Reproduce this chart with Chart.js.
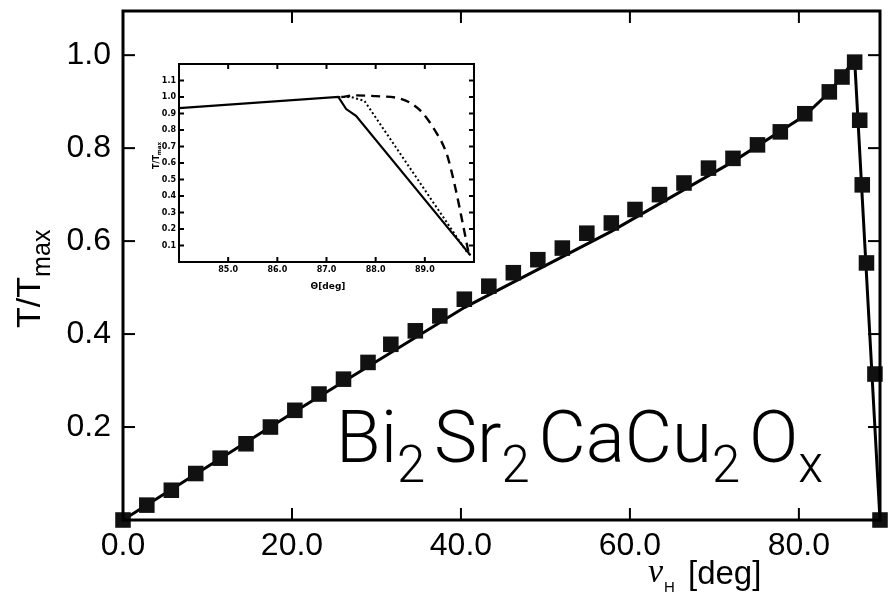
<!DOCTYPE html>
<html>
<head>
<meta charset="utf-8">
<script src="https://cdn.jsdelivr.net/npm/chart.js@4.4.1/dist/chart.umd.min.js"></script>
<style>
  html, body { margin: 0; padding: 0; background: #fff; }
  #wrap { position: relative; width: 891px; height: 592px; }
  #main { position: absolute; left: 0; top: 0; }
  #inset { position: absolute; left: 140px; top: 55px; }
</style>
</head>
<body>
<div id="wrap">
  <canvas id="main" width="891" height="592"></canvas>
  <canvas id="inset" width="345" height="250"></canvas>
</div>
<script>
// main panel: measured points (theta_H in deg, T/Tmax)
const thetaH = [0, 2.82, 5.72, 8.61, 11.5, 14.56, 17.45, 20.34, 23.2, 26.1, 29.0, 31.7, 34.6, 37.5,
  40.4, 43.3, 46.2, 49.1, 52.0, 54.9, 57.8, 60.6, 63.5, 66.4, 69.3, 72.2, 75.1, 77.8, 80.7, 83.6,
  85.1, 86.6, 87.2, 87.5, 88.0, 89.0, 89.6];
const tRatio = [0, 0.032, 0.064, 0.100, 0.133, 0.164, 0.200, 0.236, 0.271, 0.303, 0.339, 0.378, 0.407, 0.439,
  0.475, 0.503, 0.532, 0.560, 0.585, 0.617, 0.639, 0.668, 0.700, 0.725, 0.757, 0.778, 0.807, 0.835, 0.874, 0.921,
  0.953, 0.985, 0.860, 0.721, 0.553, 0.314, 0];
// main panel: model line
const fitX = [0, 20.3, 40.4, 57.8, 72.2, 80.7, 83.6, 86.6, 89.6];
const fitY = [0, 0.233, 0.457, 0.621, 0.771, 0.870, 0.920, 0.99, 0];
const mainXTicks = [0, 20, 40, 60, 80];
const mainYTicks = [0.2, 0.4, 0.6, 0.8, 1.0];

// inset curves (theta in deg, T/Tmax)
const solidX = [84.0, 87.24, 87.4, 87.6, 89.93];
const solidY = [0.933, 1.0, 0.927, 0.886, 0.04];
const dottedX = [87.24, 87.5, 87.77, 89.85, 89.93];
const dottedY = [1.0, 1.0, 0.977, 0.063, 0.04];
const dashedX = [87.3, 87.6, 88.0, 88.5, 88.9, 89.2, 89.45, 89.62, 89.76, 89.9];
const dashedY = [1.0, 1.01, 1.005, 0.99, 0.92, 0.8, 0.65, 0.45, 0.25, 0.04];
const insetXTicks = [85, 86, 87, 88, 89];
const insetYTicks = [0.1, 0.2, 0.3, 0.4, 0.5, 0.6, 0.7, 0.8, 0.9, 1.0, 1.1];

const pts = (xs, ys) => xs.map((x, i) => ({ x: x, y: ys[i] }));
const near = (v, list) => list.some((t) => Math.abs(t - v) < 1e-6);
const noPad = (s) => { s.paddingTop = 0; s.paddingBottom = 0; s.paddingLeft = 0; s.paddingRight = 0; };

function line(ctx, x1, y1, x2, y2) {
  ctx.beginPath();
  ctx.moveTo(x1, y1);
  ctx.lineTo(x2, y2);
  ctx.stroke();
}

// frame + ticks pointing inward on all four sides
function drawFrame(chart, xt, yt, len, frameW, tickW) {
  const ctx = chart.ctx, a = chart.chartArea;
  const sx = chart.scales.x, sy = chart.scales.y;
  ctx.save();
  ctx.strokeStyle = "#000";
  ctx.lineWidth = tickW;
  xt.forEach((v) => {
    const p = sx.getPixelForValue(v);
    line(ctx, p, a.bottom, p, a.bottom - len);
    line(ctx, p, a.top, p, a.top + len);
  });
  yt.forEach((v) => {
    const p = sy.getPixelForValue(v);
    line(ctx, a.left, p, a.left + len, p);
    line(ctx, a.right, p, a.right - len, p);
  });
  ctx.lineWidth = frameW;
  ctx.strokeRect(a.left, a.top, a.right - a.left, a.bottom - a.top);
  ctx.restore();
}

// text pieces with subscripts
function drawParts(ctx, parts, x, y, size, family, weight, subScale, drop, gap) {
  parts.forEach(([t, sub]) => {
    const s = sub ? size * subScale : size;
    ctx.font = weight + " " + s + "px " + family;
    ctx.fillText(t, x, y + (sub ? size * drop : 0));
    x += ctx.measureText(t).width + (sub ? size * gap : 0);
  });
  return x;
}

function partsWidth(ctx, parts, size, family, weight, subScale, gap) {
  let w = 0;
  parts.forEach(([t, sub]) => {
    ctx.font = weight + " " + (sub ? size * subScale : size) + "px " + family;
    w += ctx.measureText(t).width + (sub ? size * gap : 0);
  });
  return w;
}

const formula = [["Bi", 0], ["2", 1], ["Sr", 0], ["2", 1], ["CaCu", 0], ["2", 1], ["O", 0], ["x", 1]];

const mainDecor = {
  id: "mainDecor",
  afterDraw(chart) {
    drawFrame(chart, [20, 40, 60, 80], mainYTicks, 12, 3, 2);
    const ctx = chart.ctx;
    ctx.save();
    ctx.fillStyle = "#000";
    ctx.textBaseline = "alphabetic";
    ctx.textAlign = "left";

    // compound label, fitted to its width in the figure
    const fam = "Roboto, 'Liberation Sans', sans-serif";
    let size = 74;
    const w = partsWidth(ctx, formula, size, fam, "300", 0.7, 0.12);
    size = size * 496 / w;
    drawParts(ctx, formula, 336, 462, size, fam, "300", 0.7, 0.28, 0.12);

    // x title
    ctx.font = "italic 34px 'Liberation Serif', serif";
    ctx.fillText("\u03BD", 648, 582);
    ctx.font = "15px 'Liberation Sans', sans-serif";
    ctx.fillText("H", 664, 592);
    ctx.font = "33px 'Liberation Sans', sans-serif";
    ctx.fillText("[deg]", 688, 584);

    // y title, rotated
    ctx.translate(40, 328);
    ctx.rotate(-Math.PI / 2);
    drawParts(ctx, [["T/T", 0], ["max", 1]], 0, 0, 34, "'Liberation Sans', sans-serif", "normal", 0.74, 0.3, 0);
    ctx.restore();
  }
};

new Chart(document.getElementById("main"), {
  type: "scatter",
  data: {
    datasets: [
      {
        data: pts(thetaH, tRatio),
        pointStyle: "rect",
        pointRadius: 11,
        pointHoverRadius: 11,
        backgroundColor: "#111",
        borderColor: "#111",
        borderWidth: 0,
        showLine: true,
        segment: {
          borderColor: (c) => (c.p0DataIndex >= 31 ? "#000" : "rgba(0,0,0,0)")
        },
        clip: false
      },
      {
        data: pts(fitX, fitY),
        showLine: true,
        borderColor: "#000",
        borderWidth: 3,
        pointRadius: 0,
        tension: 0,
        clip: false
      }
    ]
  },
  options: {
    responsive: false,
    animation: false,
    events: [],
    layout: { padding: { top: 9, right: 6, left: 0, bottom: 0 } },
    plugins: { legend: { display: false }, tooltip: { enabled: false } },
    scales: {
      x: {
        type: "linear",
        min: 0,
        max: 89.6,
        afterFit: (s) => { s.height = 72; noPad(s); },
        grid: { display: false, drawTicks: false },
        border: { display: false },
        ticks: {
          stepSize: 20,
          autoSkip: false,
          includeBounds: false,
          maxRotation: 0,
          padding: 7,
          color: "#000",
          font: { family: "'Liberation Sans', sans-serif", size: 32 },
          callback: (v) => (near(v, mainXTicks) ? v.toFixed(1) : "")
        }
      },
      y: {
        type: "linear",
        min: 0,
        max: 1.095,
        afterFit: (s) => { s.width = 123; noPad(s); },
        grid: { display: false, drawTicks: false },
        border: { display: false },
        ticks: {
          stepSize: 0.2,
          autoSkip: false,
          includeBounds: false,
          padding: 12,
          color: "#000",
          font: { family: "'Liberation Sans', sans-serif", size: 32 },
          callback: (v) => (near(v, mainYTicks) ? v.toFixed(1) : "")
        }
      }
    }
  },
  plugins: [mainDecor]
});

const insetDecor = {
  id: "insetDecor",
  afterDraw(chart) {
    drawFrame(chart, insetXTicks, insetYTicks, 5, 2, 2);
    const ctx = chart.ctx;
    ctx.save();
    ctx.fillStyle = "#000";
    ctx.textAlign = "center";
    ctx.textBaseline = "middle";
    ctx.font = "bold 9px 'DejaVu Sans', sans-serif";
    ctx.fillText("\u0398[deg]", 188, 232);
    ctx.translate(16, 98);
    ctx.rotate(-Math.PI / 2);
    ctx.textAlign = "left";
    ctx.textBaseline = "alphabetic";
    drawParts(ctx, [["T/T", 0], ["max", 1]], -16, 3, 8, "'DejaVu Sans', sans-serif", "bold", 0.7, 0.3, 0);
    ctx.restore();
  }
};

const smallFont = { family: "'DejaVu Sans', sans-serif", size: 8, weight: "bold" };

new Chart(document.getElementById("inset"), {
  type: "scatter",
  data: {
    datasets: [
      { data: pts(solidX, solidY), showLine: true, borderColor: "#000", borderWidth: 2.2, pointRadius: 0 },
      { data: pts(dottedX, dottedY), showLine: true, borderColor: "#000", borderWidth: 2, borderDash: [2, 2.5], pointRadius: 0 },
      { data: pts(dashedX, dashedY), showLine: true, borderColor: "#000", borderWidth: 2.4, borderDash: [9, 6], pointRadius: 0, cubicInterpolationMode: "monotone" }
    ]
  },
  options: {
    responsive: false,
    animation: false,
    events: [],
    layout: { padding: { top: 9, right: 11, left: 0, bottom: 0 } },
    plugins: { legend: { display: false }, tooltip: { enabled: false } },
    scales: {
      x: {
        type: "linear",
        min: 84,
        max: 90,
        afterFit: (s) => { s.height = 43; noPad(s); },
        grid: { display: false, drawTicks: false },
        border: { display: false },
        ticks: {
          stepSize: 1,
          autoSkip: false,
          includeBounds: false,
          maxRotation: 0,
          padding: 3,
          color: "#000",
          font: smallFont,
          callback: (v) => (near(v, insetXTicks) ? v.toFixed(1) : "")
        }
      },
      y: {
        type: "linear",
        min: 0,
        max: 1.2,
        afterFit: (s) => { s.width = 39; noPad(s); },
        grid: { display: false, drawTicks: false },
        border: { display: false },
        ticks: {
          stepSize: 0.1,
          autoSkip: false,
          includeBounds: false,
          padding: 3,
          color: "#000",
          font: smallFont,
          callback: (v) => (near(v, insetYTicks) ? v.toFixed(1) : "")
        }
      }
    }
  },
  plugins: [insetDecor]
});
</script>
</body>
</html>
